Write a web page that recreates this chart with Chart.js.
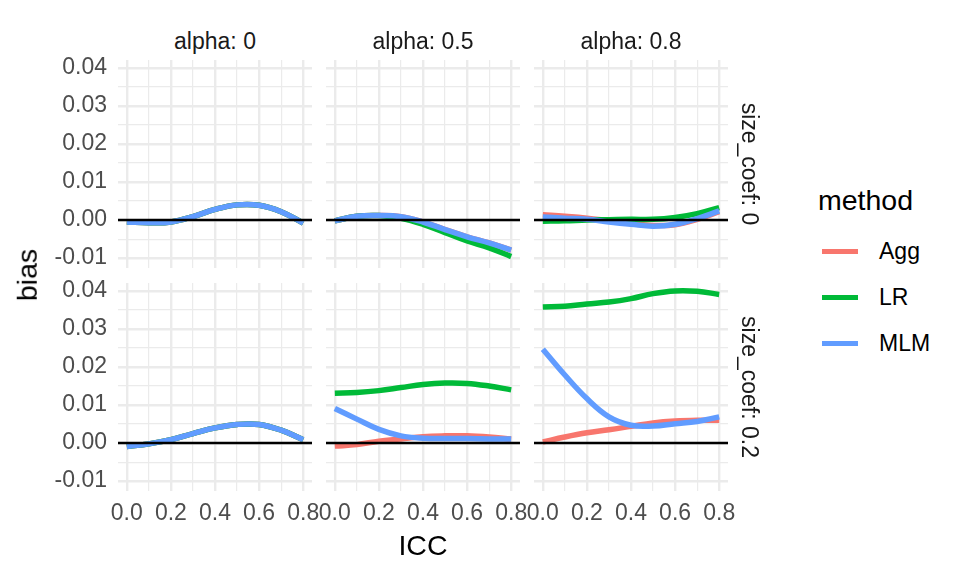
<!DOCTYPE html>
<html>
<head>
<meta charset="utf-8">
<script src="https://cdn.jsdelivr.net/npm/chart.js@4.4.1/dist/chart.umd.min.js"></script>
<style>
  body { margin: 0; background: #fff; }
  #wrap {
    position: relative;
    width: 960px;
    height: 576px;
    overflow: hidden;
    font-family: "Liberation Sans", Arial, sans-serif;
  }
  #wrap canvas { position: absolute; }
  .lbl {
    position: absolute;
    white-space: nowrap;
    line-height: 1;
    transform: translate(-50%, -50%);
  }
  .strip { font-size: 23px; color: #1a1a1a; }
  .title { font-size: 28.5px; color: #000; }
  .legend-key { position: absolute; width: 36px; height: 5px; }
  .legend-text { position: absolute; left: 879px; font-size: 23px; line-height: 1; transform: translateY(-50%); }
</style>
</head>
<body>
<div id="wrap"></div>
<script>
// x values of the smoothed curves
const ICC = [0, 0.1, 0.2, 0.3, 0.4, 0.5, 0.6, 0.7, 0.8];

const ALPHAS = ["0", "0.5", "0.8"];
const SIZE_COEFS = ["0", "0.2"];
const METHODS = ["Agg", "LR", "MLM"];
const COLORS = ["#F8766D", "#00BA38", "#619CFF"];

const X_TICKS = [0, 0.1, 0.2, 0.3, 0.4, 0.5, 0.6, 0.7, 0.8];
const Y_TICKS = [-0.01, -0.005, 0, 0.005, 0.01, 0.015, 0.02, 0.025, 0.03, 0.035, 0.04];
const X_RANGE = [-0.04, 0.84];
const Y_RANGE = [-0.0126, 0.0421];

// size_coef: 0
const s0_a0_agg = [-0.0005, -0.0007, -0.0005, 0.0009, 0.0028, 0.0040, 0.0039, 0.0022, -0.0008];
const s0_a0_lr = [-0.0005, -0.0007, -0.0005, 0.0009, 0.0028, 0.0040, 0.0039, 0.0022, -0.0008];
const s0_a0_mlm = [-0.0005, -0.0007, -0.0005, 0.0009, 0.0028, 0.0040, 0.0039, 0.0022, -0.0008];

const s0_a5_agg = [-0.0002, 0.0010, 0.0012, 0.0009, -0.0005, -0.0025, -0.0044, -0.0060, -0.0079];
const s0_a5_lr = [-0.0002, 0.0010, 0.0012, 0.0005, -0.0011, -0.0033, -0.0055, -0.0073, -0.0096];
const s0_a5_mlm = [-0.0002, 0.0010, 0.0012, 0.0009, -0.0005, -0.0025, -0.0044, -0.0060, -0.0079];

const s0_a8_agg = [0.0014, 0.0010, 0.0005, -0.0002, -0.0009, -0.0014, -0.0012, 0.0002, 0.0022];
const s0_a8_lr = [-0.0003, -0.0002, 0.0000, 0.0001, 0.0002, 0.0002, 0.0007, 0.0017, 0.0033];
const s0_a8_mlm = [0.0008, 0.0005, 0.0002, -0.0005, -0.0011, -0.0016, -0.0011, 0.0004, 0.0024];

// size_coef: 0.2
const s2_a0_agg = [-0.0009, -0.0002, 0.0009, 0.0025, 0.0040, 0.0049, 0.0049, 0.0034, 0.0009];
const s2_a0_lr = [-0.0009, -0.0002, 0.0009, 0.0025, 0.0040, 0.0049, 0.0049, 0.0034, 0.0009];
const s2_a0_mlm = [-0.0009, -0.0002, 0.0009, 0.0025, 0.0040, 0.0049, 0.0049, 0.0034, 0.0009];

const s2_a5_agg = [-0.0008, -0.0004, 0.0005, 0.0011, 0.0017, 0.0019, 0.0019, 0.0016, 0.0011];
const s2_a5_lr = [0.0131, 0.0133, 0.0138, 0.0146, 0.0154, 0.0158, 0.0157, 0.0150, 0.0140];
const s2_a5_mlm = [0.0091, 0.0063, 0.0036, 0.0019, 0.0013, 0.0012, 0.0012, 0.0011, 0.0011];

const s2_a8_agg = [0.0003, 0.0016, 0.0027, 0.0035, 0.0044, 0.0053, 0.0058, 0.0060, 0.0060];
const s2_a8_lr = [0.0358, 0.0360, 0.0366, 0.0371, 0.0380, 0.0393, 0.0400, 0.0399, 0.0391];
const s2_a8_mlm = [0.0247, 0.0179, 0.0117, 0.0069, 0.0047, 0.0045, 0.0051, 0.0057, 0.0069];

const panels = [
  [[s0_a0_agg, s0_a0_lr, s0_a0_mlm], [s0_a5_agg, s0_a5_lr, s0_a5_mlm], [s0_a8_agg, s0_a8_lr, s0_a8_mlm]],
  [[s2_a0_agg, s2_a0_lr, s2_a0_mlm], [s2_a5_agg, s2_a5_lr, s2_a5_mlm], [s2_a8_agg, s2_a8_lr, s2_a8_mlm]],
];

// panel placement in the 960x576 frame
const PANEL_LEFT = [118, 326, 534];
const PANEL_TOP = [60, 283];
const PANEL_W = 194;
const PANEL_H = 208;

const wrap = document.getElementById("wrap");
const FONT = "'Liberation Sans', Arial, sans-serif";

// black reference line at bias = 0
const zeroLine = {
  id: "zeroLine",
  afterDatasetsDraw(chart) {
    const { ctx, chartArea, scales } = chart;
    const py = scales.y.getPixelForValue(0);
    ctx.save();
    ctx.strokeStyle = "#000";
    ctx.lineWidth = 2.5;
    ctx.beginPath();
    ctx.moveTo(chartArea.left, py);
    ctx.lineTo(chartArea.right, py);
    ctx.stroke();
    ctx.restore();
  },
};

const isMajorX = (v) => Math.round(v * 10) % 2 === 0;
const isMajorY = (v) => Math.round(v * 200) % 2 === 0;

function makePanel(r, c, series) {
  const mL = c === 0 ? 118 : 16;
  const mR = 16;
  const mT = 4;
  const mB = r === 1 ? 56 : 4;

  const cv = document.createElement("canvas");
  cv.width = PANEL_W + mL + mR;
  cv.height = PANEL_H + mT + mB;
  cv.style.left = PANEL_LEFT[c] - mL + "px";
  cv.style.top = PANEL_TOP[r] - mT + "px";
  wrap.appendChild(cv);

  new Chart(cv, {
    type: "line",
    data: {
      datasets: METHODS.map((m, i) => ({
        label: m,
        data: ICC.map((x, j) => ({ x: x, y: series[i][j] })),
        borderColor: COLORS[i],
        borderWidth: 5.5,
        pointRadius: 0,
        tension: 0.4,
        fill: false,
        order: METHODS.length - i,
      })),
    },
    options: {
      responsive: false,
      animation: false,
      events: [],
      layout: {
        padding: { left: c === 0 ? 0 : mL, right: mR, top: mT, bottom: r === 1 ? 0 : mB },
      },
      plugins: { legend: { display: false }, tooltip: { enabled: false } },
      scales: {
        x: {
          type: "linear",
          min: X_RANGE[0],
          max: X_RANGE[1],
          afterBuildTicks: (s) => { s.ticks = X_TICKS.map((v) => ({ value: v })); },
          afterFit: (s) => {
            s.height = r === 1 ? mB : 0;
            s.paddingLeft = 0;
            s.paddingRight = 0;
          },
          border: { display: false },
          grid: {
            color: "#EBEBEB",
            drawTicks: false,
            lineWidth: (ctx) => (isMajorX(ctx.tick.value) ? 2.4 : 1.2),
          },
          ticks: {
            display: r === 1,
            autoSkip: false,
            maxRotation: 0,
            padding: 9,
            color: "#4D4D4D",
            font: { family: FONT, size: 23 },
            callback: (v) => (isMajorX(v) ? v.toFixed(1) : ""),
          },
        },
        y: {
          type: "linear",
          min: Y_RANGE[0],
          max: Y_RANGE[1],
          afterBuildTicks: (s) => { s.ticks = Y_TICKS.map((v) => ({ value: v })); },
          afterFit: (s) => {
            s.width = c === 0 ? mL : 0;
            s.paddingTop = 0;
            s.paddingBottom = 0;
          },
          border: { display: false },
          grid: {
            color: "#EBEBEB",
            drawTicks: false,
            lineWidth: (ctx) => (isMajorY(ctx.tick.value) ? 2.4 : 1.2),
          },
          ticks: {
            display: c === 0,
            autoSkip: false,
            padding: 11,
            color: "#4D4D4D",
            font: { family: FONT, size: 23 },
            callback: (v) => (isMajorY(v) ? v.toFixed(2) : ""),
          },
        },
      },
    },
    plugins: [zeroLine],
  });
}

for (let r = 0; r < 2; r++) {
  for (let c = 0; c < 3; c++) {
    makePanel(r, c, panels[r][c]);
  }
}

function addLabel(text, cls, x, y, rotate) {
  const d = document.createElement("div");
  d.className = "lbl " + cls;
  d.textContent = text;
  d.style.left = x + "px";
  d.style.top = y + "px";
  if (rotate) d.style.transform = "translate(-50%, -50%) rotate(" + rotate + "deg)";
  wrap.appendChild(d);
}

// facet strips
ALPHAS.forEach((a, c) => addLabel("alpha: " + a, "strip", PANEL_LEFT[c] + PANEL_W / 2, 41));
SIZE_COEFS.forEach((s, r) => addLabel("size_coef: " + s, "strip", 749, PANEL_TOP[r] + PANEL_H / 2, 90));

// axis titles
addLabel("ICC", "title", 423, 545);
addLabel("bias", "title", 27, 275, -90);

// legend
const title = document.createElement("div");
title.className = "lbl title";
title.textContent = "method";
title.style.left = "818px";
title.style.top = "200px";
title.style.transform = "translateY(-50%)";
wrap.appendChild(title);

const LEGEND_Y = [251, 297, 343];
METHODS.forEach((m, i) => {
  const key = document.createElement("div");
  key.className = "legend-key";
  key.style.left = "822px";
  key.style.top = LEGEND_Y[i] - 2.5 + "px";
  key.style.background = COLORS[i];
  wrap.appendChild(key);
  const t = document.createElement("div");
  t.className = "legend-text";
  t.textContent = m;
  t.style.top = LEGEND_Y[i] + "px";
  wrap.appendChild(t);
});
</script>
</body>
</html>
